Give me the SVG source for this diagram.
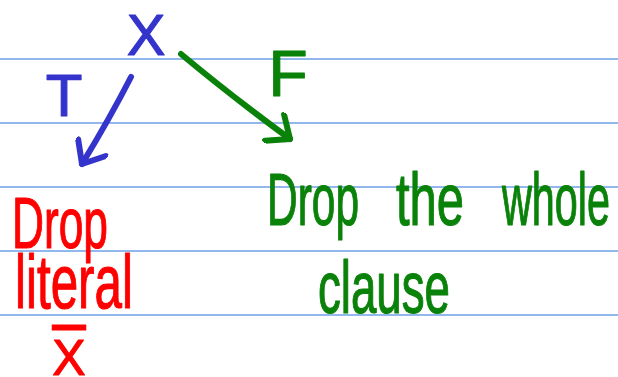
<svg xmlns="http://www.w3.org/2000/svg" width="618" height="377" viewBox="0 0 618 377">
<defs>
<style>
.rule{stroke:#6e9fe6;stroke-width:1.5}
.t{font-family:"Liberation Sans",Arial,sans-serif;stroke-width:1.2;stroke-linejoin:round}
.blue{fill:#3434cc;stroke:#3434cc}
.green{fill:#0a820a;stroke:#0a820a}
.red{fill:#ff0000;stroke:#ff0000}
.conn{fill:none;stroke-width:6;stroke-linecap:round;stroke-linejoin:round}
</style>
<marker id="ahB" markerWidth="6" markerHeight="6" refX="4.2" refY="3" orient="auto" markerUnits="strokeWidth" viewBox="0 0 6 6">
<path d="M1,0.3 L4.2,3 L1,5.7" fill="none" stroke="#3434cc" stroke-width="1" stroke-linecap="round" stroke-linejoin="round"/>
</marker>
<marker id="ahG" markerWidth="6" markerHeight="6" refX="4.2" refY="3" orient="auto" markerUnits="strokeWidth" viewBox="0 0 6 6">
<path d="M1,0.3 L4.2,3 L1,5.7" fill="none" stroke="#0a820a" stroke-width="1" stroke-linecap="round" stroke-linejoin="round"/>
</marker>
</defs>
<rect width="618" height="377" fill="#ffffff"/>
<g id="rules">
<line class="rule" x1="0" y1="59" x2="618" y2="59"/>
<line class="rule" x1="0" y1="123" x2="618" y2="123"/>
<line class="rule" x1="0" y1="187" x2="618" y2="187"/>
<line class="rule" x1="0" y1="251" x2="618" y2="251"/>
<line class="rule" x1="0" y1="315" x2="618" y2="315"/>
</g>
<g id="connectors">
<path class="conn" stroke="#3434cc" d="M131,77 Q110,118 82,164" marker-end="url(#ahB)"/>
<text class="t blue" x="64" y="116" font-size="60" text-anchor="middle">T</text>
<path class="conn" stroke="#0a820a" d="M181,54 Q230,95 290,139" marker-end="url(#ahG)"/>
<text class="t green" x="288" y="96" font-size="64" text-anchor="middle">F</text>
</g>
<g id="node-x">
<text class="t blue" x="146" y="55" font-size="58" text-anchor="middle">X</text>
</g>
<g id="node-drop-literal">
<text class="t red" x="12" y="248" font-size="72" textLength="96" lengthAdjust="spacingAndGlyphs">Drop</text>
<text class="t red" x="15" y="308" font-size="76" textLength="118" lengthAdjust="spacingAndGlyphs">literal</text>
<text class="t red" x="69" y="375" font-size="50" text-anchor="middle" text-decoration="overline">X</text>
</g>
<g id="node-drop-clause">
<text class="t green" x="267" y="225" font-size="74" textLength="92" lengthAdjust="spacingAndGlyphs">Drop</text>
<text class="t green" x="396" y="225" font-size="74" textLength="68" lengthAdjust="spacingAndGlyphs">the</text>
<text class="t green" x="502" y="225" font-size="74" textLength="108" lengthAdjust="spacingAndGlyphs">whole</text>
<text class="t green" x="318" y="313" font-size="74" textLength="132" lengthAdjust="spacingAndGlyphs">clause</text>
</g>
</svg>
